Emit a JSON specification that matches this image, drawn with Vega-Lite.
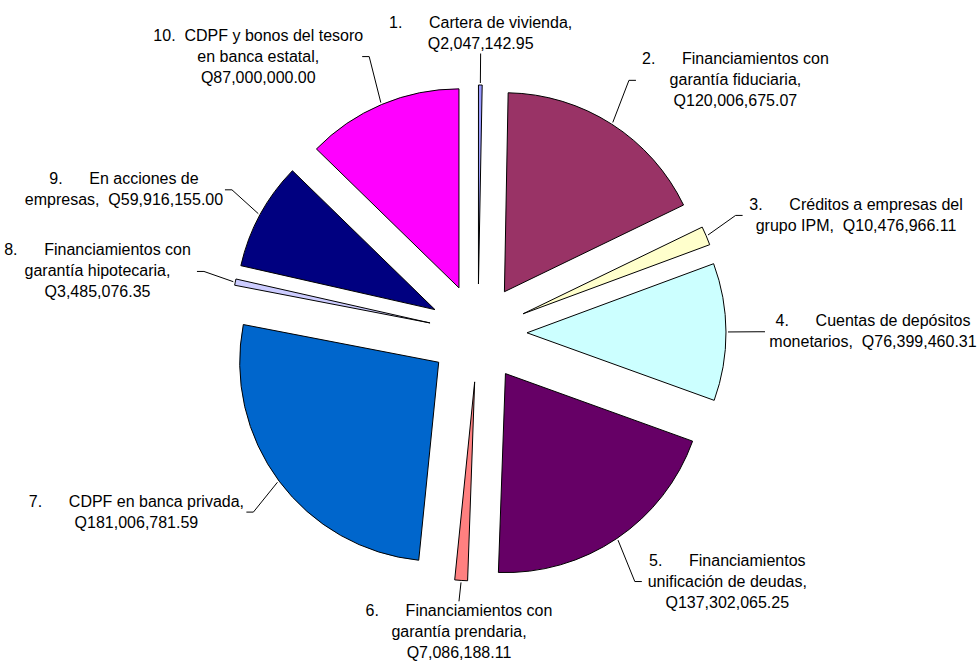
{
  "$schema": "https://vega.github.io/schema/vega-lite/v6.json",
  "width": 978,
  "height": 664,
  "autosize": {"type": "none"},
  "padding": 0,
  "background": "white",
  "config": {"view": {"stroke": null}},
  "data": {
    "values": [
      {"n": 1, "name": "Cartera de vivienda", "value": 2047142.95, "label": "1.\u00a0\u00a0\u00a0\u00a0\u00a0\u00a0Cartera de vivienda,|Q2,047,142.95"},
      {"n": 2, "name": "Financiamientos con garantía fiduciaria", "value": 120006675.07, "label": "2.\u00a0\u00a0\u00a0\u00a0\u00a0\u00a0Financiamientos con|garantía fiduciaria,|Q120,006,675.07"},
      {"n": 3, "name": "Créditos a empresas del grupo IPM", "value": 10476966.11, "label": "3.\u00a0\u00a0\u00a0\u00a0\u00a0\u00a0Créditos a empresas del|grupo IPM,\u00a0\u00a0Q10,476,966.11"},
      {"n": 4, "name": "Cuentas de depósitos monetarios", "value": 76399460.31, "label": "4.\u00a0\u00a0\u00a0\u00a0\u00a0\u00a0Cuentas de depósitos|monetarios,\u00a0\u00a0Q76,399,460.31"},
      {"n": 5, "name": "Financiamientos unificación de deudas", "value": 137302065.25, "label": "5.\u00a0\u00a0\u00a0\u00a0\u00a0\u00a0Financiamientos|unificación de deudas,|Q137,302,065.25"},
      {"n": 6, "name": "Financiamientos con garantía prendaria", "value": 7086188.11, "label": "6.\u00a0\u00a0\u00a0\u00a0\u00a0\u00a0Financiamientos con|garantía prendaria,|Q7,086,188.11"},
      {"n": 7, "name": "CDPF en banca privada", "value": 181006781.59, "label": "7.\u00a0\u00a0\u00a0\u00a0\u00a0\u00a0CDPF en banca privada,|Q181,006,781.59"},
      {"n": 8, "name": "Financiamientos con garantía hipotecaria", "value": 3485076.35, "label": "8.\u00a0\u00a0\u00a0\u00a0\u00a0\u00a0Financiamientos con|garantía hipotecaria,|Q3,485,076.35"},
      {"n": 9, "name": "En acciones de empresas", "value": 59916155.00, "label": "9.\u00a0\u00a0\u00a0\u00a0\u00a0\u00a0En acciones de|empresas,\u00a0\u00a0Q59,916,155.00"},
      {"n": 10, "name": "CDPF y bonos del tesoro en banca estatal", "value": 87000000.00, "label": "10.\u00a0\u00a0CDPF y bonos del tesoro|en banca estatal,|Q87,000,000.00"}
    ]
  },
  "transform": [
    {"window": [{"op": "sum", "field": "value", "as": "cum"}], "sort": [{"field": "n", "order": "ascending"}], "frame": [null, 0]},
    {"joinaggregate": [{"op": "sum", "field": "value", "as": "total"}]},
    {"calculate": "(datum.cum - datum.value) / datum.total", "as": "t0"},
    {"calculate": "datum.cum / datum.total", "as": "t1"},
    {"calculate": "PI * (datum.t0 + datum.t1)", "as": "mid"},
    {"calculate": "sin(datum.mid)", "as": "s"},
    {"calculate": "cos(datum.mid)", "as": "c"},
    {"calculate": "49 * datum.s", "as": "cxo"},
    {"calculate": "49 * datum.c", "as": "cyo"},
    {"calculate": "250 * datum.s", "as": "x0"},
    {"calculate": "250 * datum.c", "as": "y0"},
    {"calculate": "split(datum.label, '|')", "as": "lines"},
    {"calculate": "length(datum.lines)", "as": "nl"},
    {"calculate": "datum.lines[0] || ''", "as": "l0"},
    {"calculate": "datum.lines[1] || ''", "as": "l1"},
    {"calculate": "datum.lines[2] || ''", "as": "l2"},
    {"calculate": "7 * length(datum.l0) + 1.9 * (length(datum.l0) - length(replace(datum.l0, /[0-9]/g, '')))", "as": "w0"},
    {"calculate": "7 * length(datum.l1) + 1.9 * (length(datum.l1) - length(replace(datum.l1, /[0-9]/g, '')))", "as": "w1"},
    {"calculate": "7 * length(datum.l2) + 1.9 * (length(datum.l2) - length(replace(datum.l2, /[0-9]/g, '')))", "as": "w2"},
    {"calculate": "max(datum.w0, datum.w1, datum.w2) / 2", "as": "hw"},
    {"calculate": "abs(datum.s) > 0.35", "as": "side"},
    {"calculate": "datum.s > 0 ? 1 : -1", "as": "sx"},
    {"calculate": "datum.c > 0 ? 1 : -1", "as": "sy"},
    {"calculate": "280 * datum.s", "as": "ex"},
    {"calculate": "300 * datum.c", "as": "ey"},
    {"calculate": "datum.side ? datum.ex + datum.sx * 7 : datum.ex", "as": "ex2"},
    {"calculate": "datum.side ? datum.ex + datum.sx * (11 + datum.hw) : datum.ex", "as": "tx"},
    {"calculate": "datum.ey + (datum.nl - 1) * 10.5", "as": "ty"},
    {"calculate": "datum.side ? datum.ey : datum.ey - datum.sy * ((datum.nl - 1) * 10.5 + 10)", "as": "ly"}
  ],
  "layer": [
    {
      "mark": {"type": "arc", "outerRadius": 199, "stroke": "#000000", "strokeWidth": 1},
      "encoding": {
        "x": {"field": "cxo", "type": "quantitative", "scale": {"domain": [-478, 500], "nice": false, "zero": false}, "axis": null},
        "y": {"field": "cyo", "type": "quantitative", "scale": {"domain": [-331, 333], "nice": false, "zero": false}, "axis": null},
        "theta": {"field": "t0", "type": "quantitative", "scale": {"domain": [0, 1], "range": [0, 6.283185307179586]}},
        "theta2": {"field": "t1"},
        "color": {
          "field": "n", "type": "nominal", "legend": null,
          "scale": {"domain": [1, 2, 3, 4, 5, 6, 7, 8, 9, 10], "range": ["#9999ff", "#993366", "#ffffcc", "#ccffff", "#660066", "#ff8080", "#0066cc", "#ccccff", "#000080", "#ff00ff"]}
        }
      }
    },
    {
      "mark": {"type": "rule", "stroke": "#000000", "strokeWidth": 1},
      "encoding": {
        "x": {"field": "x0", "type": "quantitative", "scale": {"domain": [-478, 500], "nice": false, "zero": false}, "axis": null},
        "y": {"field": "y0", "type": "quantitative", "scale": {"domain": [-331, 333], "nice": false, "zero": false}, "axis": null},
        "x2": {"field": "ex"},
        "y2": {"field": "ly"}
      }
    },
    {
      "mark": {"type": "rule", "stroke": "#000000", "strokeWidth": 1},
      "encoding": {
        "x": {"field": "ex", "type": "quantitative", "scale": {"domain": [-478, 500], "nice": false, "zero": false}, "axis": null},
        "y": {"field": "ly", "type": "quantitative", "scale": {"domain": [-331, 333], "nice": false, "zero": false}, "axis": null},
        "x2": {"field": "ex2"},
        "y2": {"field": "ly"}
      }
    },
    {
      "mark": {"type": "text", "align": "center", "baseline": "middle", "lineBreak": "|", "lineHeight": 21, "font": "Liberation Sans", "fontSize": 16, "color": "#000000"},
      "encoding": {
        "x": {"field": "tx", "type": "quantitative", "scale": {"domain": [-478, 500], "nice": false, "zero": false}, "axis": null},
        "y": {"field": "ty", "type": "quantitative", "scale": {"domain": [-331, 333], "nice": false, "zero": false}, "axis": null},
        "text": {"field": "label", "type": "nominal"}
      }
    }
  ]
}
